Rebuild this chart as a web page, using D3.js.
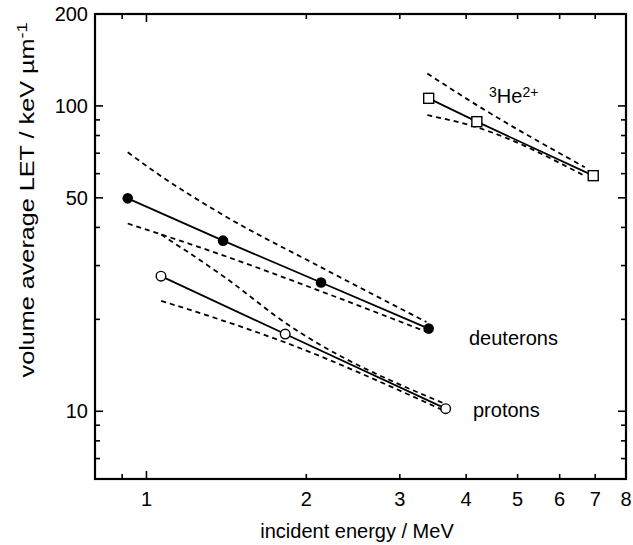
<!DOCTYPE html>
<html>
<head>
<meta charset="utf-8">
<script src="https://cdn.jsdelivr.net/npm/d3@7"></script>
<style>
  body { margin: 0; background: #fff; }
  text { font-family: "Liberation Sans", Arial, sans-serif; fill: #000; }
</style>
</head>
<body>
<div id="plot"></div>
<script>
// measured points (energy in MeV, LET in keV/um)
var deutEnergy = [0.922, 1.394, 2.132, 3.40];
var deutLet = [49.8, 36.2, 26.4, 18.65];
var protEnergy = [1.065, 1.825, 3.66];
var protLet = [27.7, 17.9, 10.2];
var heEnergy = [3.40, 4.19, 6.94];
var heLet = [105.9, 88.8, 59.1];

// dashed bounds
var deutUpE = [0.922, 1.046, 1.377, 2.126, 3.367];
var deutUpL = [70.5, 60.2, 44.5, 29.7, 19.6];
var deutLoE = [0.922, 1.394, 2.132, 3.37];
var deutLoL = [41.2, 32.4, 24.7, 18.2];
var protUpE = [1.066, 1.411, 1.825, 3.61];
var protUpL = [37.9, 27.3, 19.5, 10.66];
var protLoE = [1.066, 1.825, 3.61];
var protLoL = [23.0, 16.8, 10.1];
var heUpE = [3.38, 4.19, 6.69];
var heUpL = [127.7, 100.6, 63.0];
var heLoE = [3.38, 4.19, 6.69];
var heLoL = [93.3, 85.1, 59.0];

var xTicks = [0.9, 1, 2, 3, 4, 5, 6, 7, 8];
var xLabels = [1, 2, 3, 4, 5, 6, 7, 8];
var yTicks = [6, 7, 8, 9, 10, 20, 30, 40, 50, 60, 70, 80, 90, 100, 200];
var yLabels = [10, 50, 100, 200];

function zip(a, b){ return a.map(function(v, i){ return [v, b[i]]; }); }

function start(){
    var margin = {top: 14, right: 7, bottom: 66, left: 95};
    var W = 633, H = 545;
    var width = W - margin.left - margin.right;
    var height = H - margin.top - margin.bottom;

    var svg = d3.select('#plot').append('svg')
        .attr('width', W).attr('height', H);
    var g = svg.append('g')
        .attr('transform', 'translate(' + margin.left + ',' + margin.top + ')');

    var x = d3.scaleLog().domain([0.8, 8]).range([0, width]);
    var y = d3.scaleLog().domain([6, 200]).range([height, 0]);

    // ticks, inward on all four sides
    function tlenX(d){ return d === 1 ? 8 : 5; }
    function tlenY(d){ return yLabels.indexOf(d) >= 0 ? 8 : 5; }

    g.selectAll('.xtb').data(xTicks).enter().append('line')
        .attr('x1', function(d){ return x(d); }).attr('x2', function(d){ return x(d); })
        .attr('y1', height).attr('y2', function(d){ return height - tlenX(d); })
        .attr('stroke', 'black').attr('stroke-width', 1.6);
    g.selectAll('.xtt').data(xTicks).enter().append('line')
        .attr('x1', function(d){ return x(d); }).attr('x2', function(d){ return x(d); })
        .attr('y1', 0).attr('y2', function(d){ return tlenX(d); })
        .attr('stroke', 'black').attr('stroke-width', 1.6);
    g.selectAll('.ytl').data(yTicks).enter().append('line')
        .attr('y1', function(d){ return y(d); }).attr('y2', function(d){ return y(d); })
        .attr('x1', 0).attr('x2', function(d){ return tlenY(d); })
        .attr('stroke', 'black').attr('stroke-width', 1.6);
    g.selectAll('.ytr').data(yTicks).enter().append('line')
        .attr('y1', function(d){ return y(d); }).attr('y2', function(d){ return y(d); })
        .attr('x1', width).attr('x2', function(d){ return width - tlenY(d); })
        .attr('stroke', 'black').attr('stroke-width', 1.6);

    g.append('rect')
        .attr('width', width).attr('height', height)
        .attr('fill', 'none').attr('stroke', 'black').attr('stroke-width', 2.2);

    g.selectAll('.xl').data(xLabels).enter().append('text')
        .attr('x', function(d){ return x(d); })
        .attr('y', height + 27)
        .attr('text-anchor', 'middle')
        .style('font-size', '20px')
        .text(function(d){ return d; });
    g.selectAll('.yl').data(yLabels).enter().append('text')
        .attr('x', -7)
        .attr('y', function(d){ return y(d); })
        .attr('dy', '0.35em')
        .attr('text-anchor', 'end')
        .style('font-size', '20px')
        .text(function(d){ return d; });

    // axis titles
    svg.append('text')
        .attr('x', 357).attr('y', 538)
        .attr('text-anchor', 'middle')
        .style('font-size', '20px')
        .text('incident energy / MeV');
    var yt = svg.append('text')
        .attr('transform', 'translate(34,200) rotate(-90) scale(1.2,1)')
        .attr('text-anchor', 'middle')
        .style('font-size', '21px');
    yt.append('tspan').text('volume average LET / keV \u00b5m');
    yt.append('tspan').attr('baseline-shift', '45%').style('font-size', '15px').text('-1');

    var line = d3.line()
        .x(function(d){ return x(d[0]); })
        .y(function(d){ return y(d[1]); });
    var curve = d3.line()
        .x(function(d){ return x(d[0]); })
        .y(function(d){ return y(d[1]); })
        .curve(d3.curveMonotoneX);

    var bounds = [zip(deutUpE, deutUpL), zip(deutLoE, deutLoL),
                  zip(protUpE, protUpL), zip(protLoE, protLoL),
                  zip(heUpE, heUpL), zip(heLoE, heLoL)];
    g.selectAll('.bound').data(bounds).enter().append('path')
        .attr('d', curve)
        .attr('fill', 'none').attr('stroke', 'black')
        .attr('stroke-width', 1.8).attr('stroke-dasharray', '5,4');

    var series = [zip(deutEnergy, deutLet), zip(protEnergy, protLet), zip(heEnergy, heLet)];
    g.selectAll('.series').data(series).enter().append('path')
        .attr('d', line)
        .attr('fill', 'none').attr('stroke', 'black').attr('stroke-width', 1.8);

    g.selectAll('.deut').data(zip(deutEnergy, deutLet)).enter().append('circle')
        .attr('cx', function(d){ return x(d[0]); }).attr('cy', function(d){ return y(d[1]); })
        .attr('r', 5.3).attr('fill', 'black');
    g.selectAll('.prot').data(zip(protEnergy, protLet)).enter().append('circle')
        .attr('cx', function(d){ return x(d[0]); }).attr('cy', function(d){ return y(d[1]); })
        .attr('r', 4.8).attr('fill', 'white').attr('stroke', 'black').attr('stroke-width', 1.4);
    g.selectAll('.he').data(zip(heEnergy, heLet)).enter().append('rect')
        .attr('x', function(d){ return x(d[0]) - 5; }).attr('y', function(d){ return y(d[1]) - 5; })
        .attr('width', 10).attr('height', 10)
        .attr('fill', 'white').attr('stroke', 'black').attr('stroke-width', 1.4);

    // series labels
    var he = svg.append('text').attr('x', 489).attr('y', 103).style('font-size', '20px');
    he.append('tspan').attr('baseline-shift', '40%').style('font-size', '14px').text('3');
    he.append('tspan').text('He');
    he.append('tspan').attr('baseline-shift', '40%').style('font-size', '14px').text('2+');
    svg.append('text').attr('x', 469).attr('y', 345).style('font-size', '20px').text('deuterons');
    svg.append('text').attr('x', 473).attr('y', 417).style('font-size', '20px').text('protons');
}

start();
</script>
</body>
</html>
